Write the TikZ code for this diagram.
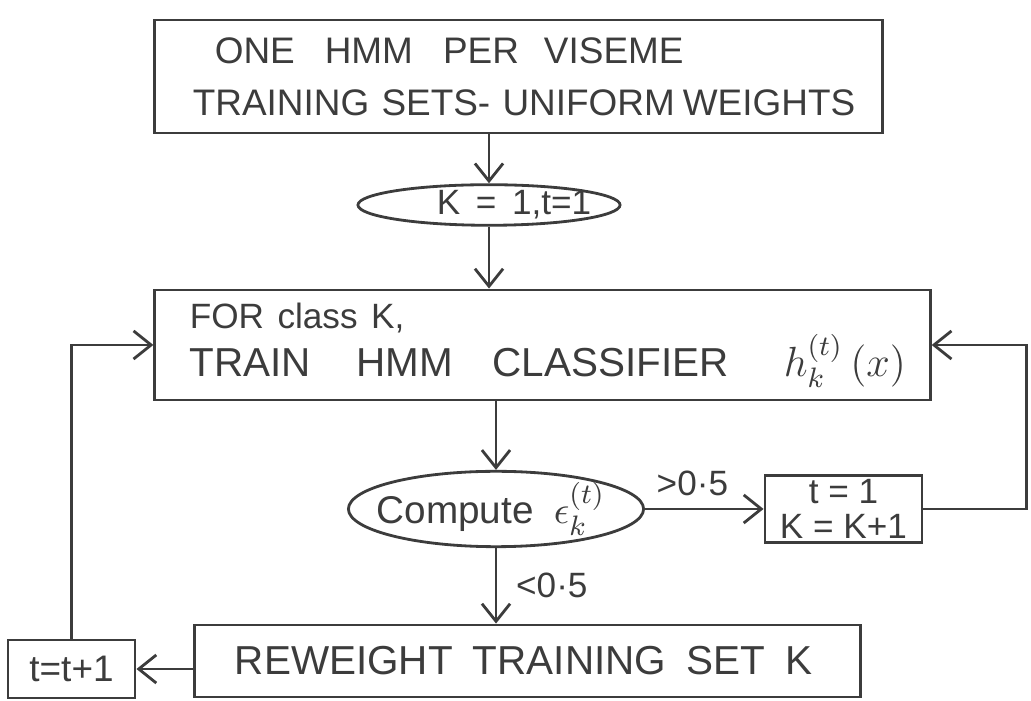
\documentclass[tikz,border=0pt]{standalone}
\usepackage{fontspec}
\setmainfont{Liberation Sans}
\usetikzlibrary{shapes.geometric,arrows.meta}
\definecolor{pencil}{RGB}{60,60,60}
\tikzset{
  box/.style={draw=pencil, line width=0.8pt, rectangle, text=pencil, align=left},
  oval/.style={draw=pencil, line width=0.8pt, ellipse, inner sep=0pt, text=pencil},
  arr/.style={draw=pencil, line width=0.8pt, -{Straight Barb[length=5pt,width=8pt]}},
  lbl/.style={text=pencil, font=\fontsize{10}{12}\selectfont}
}
\begin{document}
\begin{tikzpicture}[x=0.01cm,y=-0.01cm]
\useasboundingbox (0,0) rectangle (1031,701);
% top box
\node[box, minimum width=7.27cm, minimum height=1.13cm, inner xsep=0pt, text width=7.27cm,
      font=\fontsize{10.5}{14.8}\selectfont] (top) at (518.5,76.5)
  {\hspace*{0.6cm}ONE\hspace{0.3cm}HMM\hspace{0.3cm}PER\hspace{0.25cm}VISEME\\[0pt]\hspace*{0.38cm}TRAINING SETS- UNIFORM\hspace{0.08cm}WEIGHTS};
% k=1, t=1
\node[oval, minimum width=2.62cm, minimum height=0.37cm, inner xsep=-0.3cm, font=\fontsize{10}{12}\selectfont] (k1) at (489,205)
  {\hspace*{0.5cm}K\, =\, 1,t=1};
% train box
\node[box, minimum width=7.75cm, minimum height=1.1cm, inner xsep=0pt, text width=7.75cm,
      font=\fontsize{11.5}{13.8}\selectfont] (train) at (542.5,345)
  {\hspace*{0.35cm}{\fontsize{10}{12}\selectfont FOR class K,}\\\hspace*{0.35cm}TRAIN\hspace{0.45cm}HMM\hspace{0.4cm}CLASSIFIER\hspace{0.55cm}$h_k^{(t)}\,(x)$};
% compute ellipse
\node[oval, minimum width=2.95cm, minimum height=0.65cm, inner xsep=-0.18cm, font=\fontsize{11}{13}\selectfont] (comp) at (496,509)
  {Compute\hspace{0.2cm}$\epsilon_k^{(t)}$\hspace*{0.1cm}};
% right box
\node[box, minimum width=1.57cm, minimum height=0.58cm, inner sep=1pt, align=center,
      font=\fontsize{10}{10}\selectfont] (kk) at (843.5,509)
  {t = 1\\K = K+1};
% reweight box
\node[box, minimum width=6.65cm, minimum height=0.72cm, inner xsep=0pt, text width=6.65cm,
      font=\fontsize{11.5}{14}\selectfont] (rw) at (527.5,661)
  {\hspace*{0.4cm}REWEIGHT\enspace TRAINING\enspace SET\enspace K};
% t=t+1 box
\node[box, minimum width=1.27cm, minimum height=0.58cm, inner sep=1pt, align=center,
      font=\fontsize{10.5}{12}\selectfont] (tt) at (71.5,669)
  {t=t+1};
% connectors
\draw[arr] (k1.north |- top.south) -- (k1.north);
\draw[arr] (k1.south) -- (k1.south |- train.north);
\draw[arr] (comp.north |- train.south) -- (comp.north);
\draw[arr] (comp.east) -- node[lbl, above, pos=0.4] {{>}0·5} (comp.east -| kk.west);
\draw[arr] (kk.east) -- ++(103,0) coordinate (rc) |- (train.east);
\draw[arr] (comp.south) -- node[lbl, right, xshift=2pt] {{<}0·5} (comp.south |- rw.north);
\draw[arr] (tt.east -| rw.west) -- (tt.east);
\draw[arr] (tt.north) |- (train.west);
\end{tikzpicture}
\end{document}
